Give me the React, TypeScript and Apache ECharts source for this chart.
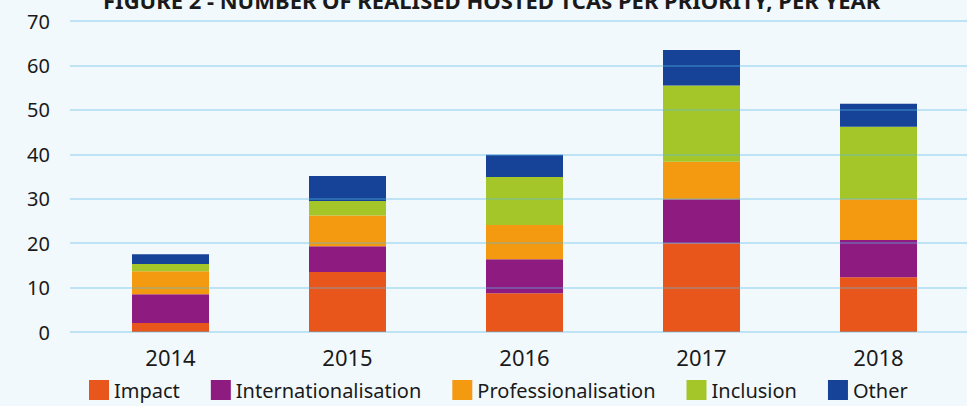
import React, { useEffect, useRef } from "react";
import * as echarts from "echarts";

const years = ["2014", "2015", "2016", "2017", "2018"];
const impact = [2.0, 13.5, 8.7, 20.0, 12.3];
const internationalisation = [6.5, 5.8, 7.7, 9.9, 8.4];
const professionalisation = [5.2, 6.9, 7.7, 8.4, 9.2];
const inclusion = [1.6, 3.3, 10.8, 17.2, 16.3];
const other = [2.2, 5.6, 5.0, 8.0, 5.2];
const yTicks = { min: 0, max: 70, interval: 10 };
const titleText = "FIGURE 2 - NUMBER OF REALISED HOSTED TCAs PER PRIORITY, PER YEAR";

const FONT = "'Noto Sans', sans-serif";
const TEXT = "#1a1a1a";

export default function App() {
  const ref = useRef<HTMLDivElement>(null);
  useEffect(() => {
    if (!ref.current) return;
    const chart = echarts.init(ref.current, null, { renderer: "svg" });
    const mk = (name: string, data: number[], color: string) => ({
      name,
      type: "bar",
      stack: "total",
      xAxisIndex: 1,
      yAxisIndex: 1,
      data,
      barWidth: 77,
      itemStyle: { color },
      emphasis: { disabled: true },
    });
    chart.setOption({
      animation: false,
      backgroundColor: "#F2F9FD",
      textStyle: { fontFamily: FONT },
      title: {
        text: titleText,
        left: 98,
        top: -16,
        padding: 5,
        textStyle: { fontFamily: FONT, fontSize: 22, fontWeight: "bold", color: TEXT },
      },
      legend: {
        bottom: 1,
        left: 84,
        itemWidth: 20,
        itemHeight: 20,
        itemGap: 31,
        icon: "rect",
        textStyle: { fontFamily: FONT, fontSize: 20, color: TEXT },
        data: ["Impact", "Internationalisation", "Professionalisation", "Inclusion", "Other"],
      },
      grid: [
        { left: 70, right: 0, top: 21, bottom: 74 },
        { left: 82, width: 891, top: 21, bottom: 74 },
      ],
      xAxis: [
        { type: "category", gridIndex: 0, data: years, show: false },
        {
          type: "category",
          gridIndex: 1,
          data: years,
          axisLine: { show: false },
          axisTick: { show: false },
          axisLabel: { fontFamily: FONT, fontSize: 22, color: TEXT, margin: 14 },
        },
      ],
      yAxis: [
        {
          type: "value",
          gridIndex: 0,
          ...yTicks,
          z: 10,
          axisLine: { show: false },
          axisTick: { show: false },
          axisLabel: { fontFamily: FONT, fontSize: 20, color: TEXT, margin: 20 },
          splitLine: { lineStyle: { color: "rgba(90,185,228,0.45)", width: 1.5 } },
        },
        {
          type: "value",
          gridIndex: 1,
          ...yTicks,
          show: false,
          splitLine: { show: false },
        },
      ],
      series: [
        mk("Impact", impact, "#E8561C"),
        mk("Internationalisation", internationalisation, "#8E1C80"),
        mk("Professionalisation", professionalisation, "#F39A10"),
        mk("Inclusion", inclusion, "#A5C628"),
        mk("Other", other, "#164397"),
      ],
    });
    return () => chart.dispose();
  }, []);
  return <div ref={ref} style={{ width: 967, height: 406, position: "fixed", left: 0, top: 0 }} />;
}
